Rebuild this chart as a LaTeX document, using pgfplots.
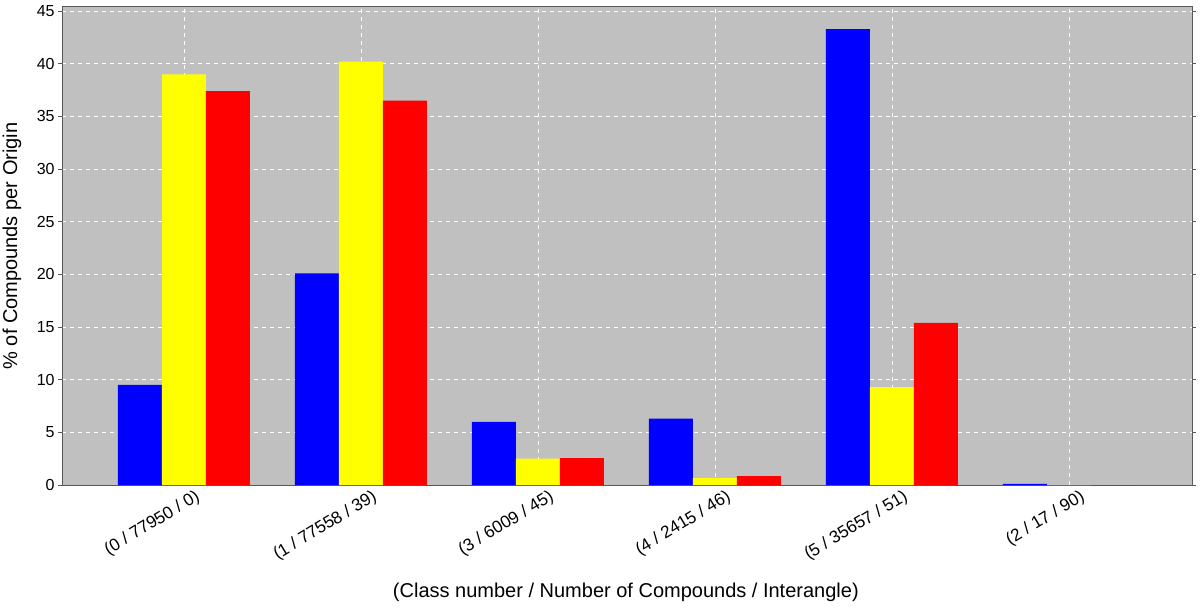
\documentclass[border=0pt]{standalone}
\usepackage{fontspec}
\setmainfont{Liberation Sans}
\usepackage{pgfplots}
\pgfplotsset{compat=1.18}
\definecolor{bggray}{HTML}{C0C0C0}
\definecolor{jblue}{HTML}{0000FF}
\definecolor{jyellow}{HTML}{FFFF00}
\definecolor{jred}{HTML}{FF0000}
\begin{document}
\begin{tikzpicture}
\begin{axis}[
  scale only axis, width=565bp, height=239bp,
  xmin=-0.689, xmax=5.695, ymin=0, ymax=45.4,
  axis background/.style={fill=bggray},
  axis line style={gray!70!black, line width=0.5bp},
  /pgf/number format/assume math mode=true,
  xtick={0,1,2,3,4,5},
  xticklabels={(0 / 77950 / 0),(1 / 77558 / 39),(3 / 6009 / 45),(4 / 2415 / 46),(5 / 35657 / 51),(2 / 17 / 90)},
  xticklabel style={rotate=31, anchor=north east, font=\fontsize{8.6bp}{9bp}\selectfont, inner sep=1bp, xshift=5.5bp, yshift=-1.5bp},
  ytick={0,5,...,45},
  yticklabel style={font=\fontsize{8bp}{9bp}\selectfont, inner sep=1.5bp},
  major x tick style={draw=none},
  major y tick style={gray!70!black, line width=0.4bp},
  tick align=outside, major tick length=2bp,
  grid=major,
  major grid style={white, dash pattern=on 2bp off 2bp, line width=0.4bp},
  xlabel={(Class number / Number of Compounds / Interangle)},
  ylabel={\% of Compounds per Origin},
  xlabel style={font=\fontsize{10bp}{11bp}\selectfont, at={(axis description cs:0.499,0)}, anchor=center, yshift=-53.5bp},
  ylabel style={font=\fontsize{10bp}{11bp}\selectfont, at={(axis description cs:-0.0442,0.5)}, anchor=center},
  ybar=0pt, bar width=0.2486,
  every axis plot/.append style={draw=none},
]
\addplot[fill=jblue, bar shift=-0.2486] coordinates {(0,9.5) (1,20.1) (2,6.0) (3,6.3) (4,43.3) (5,0.1)};
\addplot[fill=jyellow, bar shift=0] coordinates {(0,39.0) (1,40.2) (2,2.5) (3,0.65) (4,9.3) (5,0)};
\addplot[fill=jred, bar shift=0.2486] coordinates {(0,37.4) (1,36.5) (2,2.55) (3,0.85) (4,15.4) (5,0)};
\end{axis}
\pgfresetboundingbox
\path (-31bp,-62bp) rectangle (569bp,242.5bp);
\end{tikzpicture}
\end{document}
